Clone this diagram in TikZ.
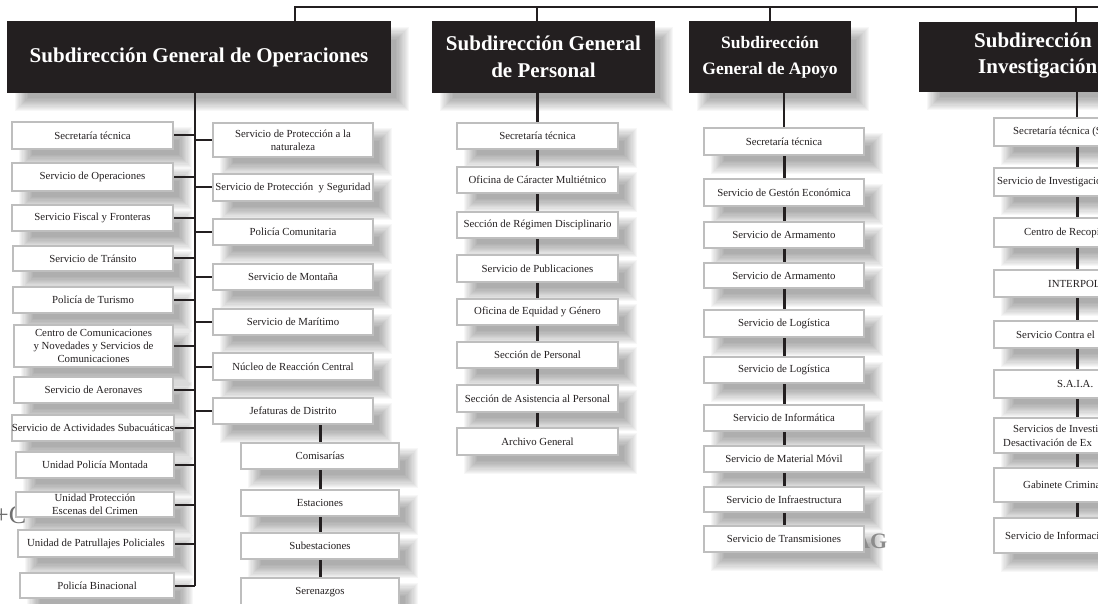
\documentclass[tikz,border=0pt]{standalone}
\usepackage{fontspec}
\setmainfont{Liberation Serif}
\usetikzlibrary{calc}
\pgfdeclarelayer{shadowlayer}
\pgfdeclarelayer{linelayer}
\pgfsetlayers{shadowlayer,linelayer,main}
\definecolor{ink}{HTML}{231F20}
\definecolor{bord}{HTML}{BEBEBE}
\definecolor{artg}{HTML}{8C8C8C}
\definecolor{artd}{HTML}{707070}
\newcommand{\boxfont}{\fontsize{10.8}{13}\selectfont}
\newcommand{\hdrfont}{\fontsize{21}{27}\selectfont\bfseries}
\newcommand{\hdrfontsmall}{\fontsize{17.5}{26}\selectfont\bfseries}
\newcommand{\mkbox}[6]{\node[bx, minimum width={(#3-#2)*1pt}, minimum height={(#5-#4)*1pt}] (#1) at ({(#2+#3)/2},{(#4+#5)/2}) {#6};}
\newcommand{\mkshadow}[1]{\foreach \e in {-7,-5.8,...,7.1} {\fill[black,opacity=0.032] ($(#1.north west)+({14-\e},{12-\e})$) rectangle ($(#1.south east)+({12+\e},{12+\e})$);}}
\begin{document}
\begin{tikzpicture}[x=1pt,y=-1pt,
  bx/.style={draw=bord, line width=2.2pt, fill=white, inner sep=0pt, align=center, font=\boxfont, text=ink},
  hdr/.style={fill=ink, inner sep=0pt, align=center, text=white, font=\hdrfont},
  ln/.style={draw=ink, line width=2pt},
  vln/.style={draw=ink, line width=3pt},
  txt/.style={inner sep=0pt, font=\boxfont, text=ink},
  htxt/.style={inner sep=0pt, font=\hdrfont, text=white}]
\useasboundingbox (0,0) rectangle (1098,604);
\clip (0,0) rectangle (1098,604);

% headers
\node[hdr, minimum width=384pt, minimum height=72pt] (H1) at (199,57) {Subdirección General de Operaciones};
\node[hdr, minimum width=223pt, minimum height=72pt] (H2) at (543.5,57) {Subdirección General\\de Personal};
\node[hdr, font=\hdrfontsmall, minimum width=162pt, minimum height=72pt] (H3) at (770,57) {Subdirección\\General de Apoyo};
\node[hdr, minimum width=241pt, minimum height=70pt] (H4) at (1039.5,57) {};
\node[htxt, anchor=base west] (H4a) at (974,48) {Subdirección};
\node[htxt, anchor=base west] (H4b) at (978,74) {Investigación};

% column A
\mkbox{A1}{12}{173}{122}{149}{Secretaría técnica}
\mkbox{A2}{12}{173}{163}{191}{Servicio de Operaciones}
\mkbox{A3}{12}{173}{205}{231}{Servicio Fiscal y Fronteras}
\mkbox{A4}{13}{173}{246}{271}{Servicio de Tránsito}
\mkbox{A5}{13}{173}{287}{313}{Policía de Turismo}
\mkbox{A6}{14}{173}{325}{367}{Centro de Comunicaciones\\y Novedades y Servicios de\\Comunicaciones}
\mkbox{A7}{14}{173}{377}{403}{Servicio de Aeronaves}
\mkbox{A8}{13}{173}{415}{441}{Servicio de Actividades Subacuáticas}
\mkbox{A9}{16}{174}{452}{478}{Unidad Policía Montada}
\mkbox{A10}{16}{174}{492}{517}{Unidad Protección\\Escenas del Crimen}
\mkbox{A11}{18}{174}{530}{557}{Unidad de Patrullajes Policiales}
\mkbox{A12}{20}{174}{573}{598}{Policía Binacional}

% column B
\mkbox{B1}{213}{373}{123}{157}{Servicio de Protección a la\\naturaleza}
\mkbox{B2}{213}{373}{174}{201}{Servicio de Protección~~y Seguridad}
\mkbox{B3}{213}{373}{219}{245}{Policía Comunitaria}
\mkbox{B4}{213}{373}{264}{290}{Servicio de Montaña}
\mkbox{B5}{213}{373}{309}{335}{Servicio de Marítimo}
\mkbox{B6}{213}{373}{353}{380}{Núcleo de Reacción Central}
\mkbox{B7}{213}{373}{398}{424}{Jefaturas de Distrito}
\mkbox{C1}{241}{399}{443}{469}{Comisarías}
\mkbox{C2}{241}{399}{490}{516}{Estaciones}
\mkbox{C3}{241}{399}{533}{559}{Subestaciones}
\mkbox{C4}{241}{399}{578}{606}{Serenazgos}

% Personal
\mkbox{P1}{457}{618}{123}{149}{Secretaría técnica}
\mkbox{P2}{457}{618}{167}{193}{Oficina de Cáracter Multiétnico}
\mkbox{P3}{457}{618}{212}{238}{Sección de Régimen Disciplinario}
\mkbox{P4}{457}{618}{255}{282}{Servicio de Publicaciones}
\mkbox{P5}{457}{618}{299}{325}{Oficina de Equidad y Género}
\mkbox{P6}{457}{618}{342}{368}{Sección de Personal}
\mkbox{P7}{457}{618}{385}{412}{Sección de Asistencia al Personal}
\mkbox{P8}{457}{618}{428}{455}{Archivo General}

% Apoyo
\mkbox{G1}{704}{864}{128}{155}{Secretaría técnica}
\mkbox{G2}{704}{864}{179}{206}{Servicio de Gestón Económica}
\mkbox{G3}{704}{864}{222}{248}{Servicio de Armamento}
\mkbox{G4}{704}{864}{263}{288}{Servicio de Armamento}
\mkbox{G5}{704}{864}{310}{337}{Servicio de Logística}
\mkbox{G6}{704}{864}{357}{383}{Servicio de Logística}
\mkbox{G7}{704}{864}{405}{431}{Servicio de Informática}
\mkbox{G8}{704}{864}{446}{472}{Servicio de Material Móvil}
\mkbox{G9}{704}{864}{487}{512}{Servicio de Infraestructura}
\mkbox{G10}{704}{864}{526}{552}{Servicio de Transmisiones}

% Investigacion
\mkbox{I1}{994}{1160}{118}{146}{}
\mkbox{I2}{994}{1160}{168}{196}{}
\mkbox{I3}{994}{1160}{218}{247}{}
\mkbox{I4}{994}{1160}{270}{297}{}
\mkbox{I5}{994}{1160}{321}{348}{}
\mkbox{I6}{994}{1160}{370}{398}{}
\mkbox{I7}{994}{1160}{418}{453}{}
\mkbox{I8}{994}{1160}{468}{502}{}
\mkbox{I9}{994}{1160}{518}{553}{}
\node[txt, anchor=west] (I1t) at (1013,132) {Secretaría técnica (S};
\node[txt, anchor=west] (I2t) at (997,182) {Servicio de Investigación};
\node[txt, anchor=west] (I3t) at (1024,232.5) {Centro de Recopilación};
\node[txt, anchor=west] (I4t) at (1048,283.5) {INTERPOL};
\node[txt, anchor=west] (I5t) at (1016,334.5) {Servicio Contra el};
\node[txt, anchor=west] (I6t) at (1057,384) {S.A.I.A.};
\node[txt, anchor=west] (I7a) at (1013,429) {Servicios de Investi};
\node[txt, anchor=west] (I7b) at (1003,443) {Desactivación de Ex};
\node[txt, anchor=west] (I8t) at (1023,485) {Gabinete Criminal};
\node[txt, anchor=west] (I9t) at (1005,535.5) {Servicio de Información};

% coordinates
\coordinate (tr) at (195,586);
\coordinate (t1) at (295,7);
\coordinate (t2) at (537,7);
\coordinate (t3) at (770,7);
\coordinate (t4) at (1076,7);
\coordinate (tR) at (1102,7);

\begin{pgfonlayer}{linelayer}
\clip (0,0) rectangle (1098,604);
\draw[ln] (t1 |- H1.north) -- (t1) -- (tR);
\draw[ln] (t2) -- (t2 |- H2.north);
\draw[ln] (t3) -- (t3 |- H3.north);
\draw[ln] (t4) -- (t4 |- H4.north);
% operaciones trunk
\draw[ln, line width=2.5pt] (H1.south -| tr) -- (tr);
\foreach \i in {1,...,12} {\draw[ln] (A\i.east) -- (A\i.east -| tr);}
\foreach \i in {1,...,7} {\draw[ln] (B\i.west) -- (B\i.west -| tr);}
\draw[vln] (B7.south -| C1.north) -- (C1.north);
\foreach \i in {1,...,3} {\pgfmathtruncatemacro{\j}{\i+1}\draw[vln] (C\i.south) -- (C\j.north);}
% personal
\draw[ln, line width=2.5pt] (H2.south -| P1.north) -- (P1.north);
\foreach \i in {1,...,7} {\pgfmathtruncatemacro{\j}{\i+1}\draw[vln] (P\i.south) -- (P\j.north);}
% apoyo
\draw[ln, line width=2.5pt] (H3.south -| G1.north) -- (G1.north);
\foreach \i in {1,...,9} {\pgfmathtruncatemacro{\j}{\i+1}\draw[vln] (G\i.south) -- (G\j.north);}
% investigacion
\draw[ln, line width=2.5pt] (H4.south -| I1.north) -- (I1.north);
\foreach \i in {1,...,8} {\pgfmathtruncatemacro{\j}{\i+1}\draw[vln] (I\i.south) -- (I\j.north);}
% stray marks
\node[inner sep=0pt, anchor=base west, font=\fontsize{22}{22}\selectfont\bfseries, text=artg] (AG) at (854,548) {AG};
\node[inner sep=0pt, anchor=base west, font=\fontsize{26}{26}\selectfont, text=artd] (PC) at (-6,523) {+C};
\end{pgfonlayer}

\begin{pgfonlayer}{shadowlayer}
\clip (0,0) rectangle (1098,604);
\foreach \n in {H1,H2,H3,H4,A1,A2,A3,A4,A5,A6,A7,A8,A9,A10,A11,A12,B1,B2,B3,B4,B5,B6,B7,C1,C2,C3,C4,P1,P2,P3,P4,P5,P6,P7,P8,G1,G2,G3,G4,G5,G6,G7,G8,G9,G10,I1,I2,I3,I4,I5,I6,I7,I8,I9} {\mkshadow{\n}}
\end{pgfonlayer}
\end{tikzpicture}
\end{document}
